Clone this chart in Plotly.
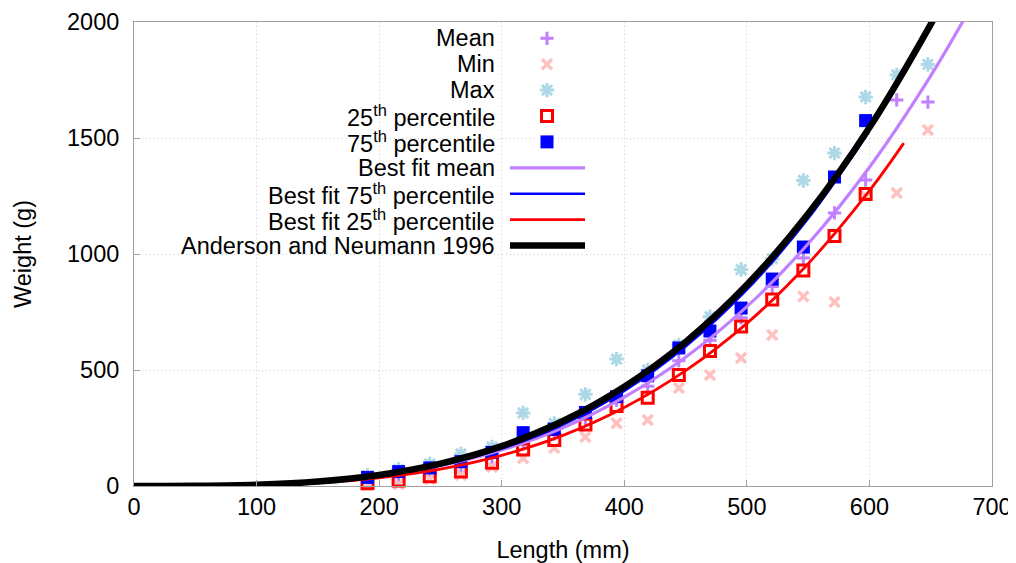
import plotly.graph_objects as go

# ---------------- data ----------------
length_mm = [190.5, 215.9, 241.3, 266.7, 292.1, 317.5, 342.9, 368.3, 393.7, 419.1,
             444.5, 469.9, 495.3, 520.7, 546.1, 571.5, 596.9, 622.3, 647.7]
mean_w = [25, 42, 60, 82, 125, 185, 225, 290, 370, 430,
          540, 628, 725, 860, 983, 1177, 1319, 1664, 1655]
min_w = [5, 8, 30, 47, 82, 120, 164, 211, 270, 284,
         422, 478, 552, 651, 817, 793, 1250, 1263, 1534]
max_w = [45, 72, 95, 138, 168, 315, 270, 395, 547, 500,
         608, 730, 933, 980, 1317, 1435, 1677, 1772, 1817]
p25_w = [12, 24, 42, 62, 100, 157, 198, 265, 345, 380,
         478, 582, 687, 804, 929, 1078, 1259, None, None]
p75_w = [37, 62, 78, 105, 145, 230, 245, 317, 385, 475,
         595, 668, 767, 892, 1030, 1332, 1575, None, None]

# fitted curves
fit_mean_L = [0, 50, 100, 150, 200, 250, 300, 350, 400, 450, 500, 550, 600, 650, 680]
fit_mean_W = [0, 0.55, 4.9, 17.4, 43.1, 87.1, 155, 251, 383, 555, 773, 1044, 1374, 1768, 2038]
fit_p75_L = [0, 50, 100, 150, 200, 250, 300, 350, 400, 450, 500, 550, 600]
fit_p75_W = [0, 0.48, 4.5, 16.9, 43.1, 88.9, 161, 265, 410, 601, 846, 1153, 1530]
fit_p25_L = [0, 50, 100, 150, 200, 250, 300, 350, 400, 450, 500, 550, 600, 628]
fit_p25_W = [0, 0.38, 3.6, 13.7, 35.1, 72.7, 132, 218, 338, 497, 701, 958, 1273, 1478]
an_L = [0, 50, 100, 150, 200, 250, 300, 350, 400, 450, 500, 550, 600, 650, 660]
an_W = [0, 0.59, 5.3, 19.1, 47.6, 96.5, 172, 280, 428, 621, 867, 1173, 1545, 1990, 2089]

x_ticks = [0, 100, 200, 300, 400, 500, 600, 700]
y_ticks = [0, 500, 1000, 1500, 2000]

legend_labels = ["Mean", "Min", "Max", "25<sup>th</sup> percentile", "75<sup>th</sup> percentile",
                 "Best fit mean", "Best fit 75<sup>th</sup> percentile",
                 "Best fit 25<sup>th</sup> percentile", "Anderson and Neumann 1996"]

# ---------------- styles ----------------
PURPLE = "#c080ff"
PINK = "#ffc0c0"
LBLUE = "#add8e6"
RED = "#ff0000"
BLUE = "#0000ff"
BLACK = "#000000"
FONT = "Liberation Sans, Arial, sans-serif"
FS = 23.5

# page body adds an 8px offset; compensate so the plot area lands at
# x 134..992, y 22..486 in the 1016x563 window
OFF = 8
W, H = 1016 - OFF, 563 - OFF
L_M, R_M, T_M, B_M = 134 - OFF, 24, 22 - OFF, 77
PW = W - L_M - R_M
PH = H - T_M - B_M

fig = go.Figure()

marker_styles = [
    ("Mean", mean_w, dict(symbol="cross-thin", size=9.5, color=PURPLE, line=dict(color=PURPLE, width=3))),
    ("Min", min_w, dict(symbol="x-thin", size=10, color=PINK, line=dict(color=PINK, width=3.5))),
    ("Max", max_w, dict(symbol="asterisk", size=12, color=LBLUE, line=dict(color=LBLUE, width=3))),
    ("25th percentile", p25_w, dict(symbol="square-open", size=11, color=RED, line=dict(color=RED, width=3))),
    ("75th percentile", p75_w, dict(symbol="square", size=13, color=BLUE, line=dict(width=0))),
]
for name, ys, mk in marker_styles:
    fig.add_trace(go.Scatter(x=length_mm, y=ys, mode="markers", name=name,
                             marker=mk, cliponaxis=False, showlegend=False))

line_styles = [
    ("Best fit mean", fit_mean_L, fit_mean_W, PURPLE, 3.2),
    ("Best fit 75th percentile", fit_p75_L, fit_p75_W, BLUE, 2.5),
    ("Best fit 25th percentile", fit_p25_L, fit_p25_W, RED, 2.8),
    ("Anderson and Neumann 1996", an_L, an_W, BLACK, 6.5),
]
for name, xs, ys, col, wd in line_styles:
    fig.add_trace(go.Scatter(x=xs, y=ys, mode="lines", name=name,
                             line=dict(color=col, width=wd, shape="spline"),
                             showlegend=False))

# ---------------- custom gnuplot-style legend ----------------
row_px = [38.3, 64.2, 90.1, 116.0, 141.9, 167.8, 193.7, 219.6, 245.5]
def py2paper(py):
    return (H - B_M - (py - OFF)) / PH
def px2paper(px):
    return (px - OFF - L_M) / PW

text_x = px2paper(497)
for lab, py in zip(legend_labels, row_px):
    fig.add_annotation(x=text_x, y=py2paper(py), xref="paper", yref="paper",
                       text=lab, showarrow=False, xanchor="right", yanchor="middle",
                       font=dict(family=FONT, size=FS, color="black"))

mk_x = px2paper(547)
for (name, ys, mk), py in zip(marker_styles, row_px[:5]):
    fig.add_trace(go.Scatter(x=[mk_x], y=[py2paper(py)], mode="markers", marker=mk,
                             xaxis="x2", yaxis="y2", showlegend=False, hoverinfo="skip"))
for (name, xs, ys, col, wd), py in zip(line_styles, row_px[5:]):
    fig.add_trace(go.Scatter(x=[px2paper(510), px2paper(585)], y=[py2paper(py)] * 2,
                             mode="lines", line=dict(color=col, width=wd),
                             xaxis="x2", yaxis="y2", showlegend=False, hoverinfo="skip"))

axis_common = dict(
    showline=True, mirror=True, linecolor="#a0a0a0", linewidth=1,
    ticks="inside", ticklen=6, tickcolor="#a0a0a0",
    showgrid=True, gridcolor="#cfcfcf", griddash="1px,3px", gridwidth=1,
    zeroline=False, tickfont=dict(family=FONT, size=FS, color="black"),
    automargin=False,
)
fig.update_layout(
    width=W, height=H,
    margin=dict(l=L_M, r=R_M, t=T_M, b=B_M),
    paper_bgcolor="white", plot_bgcolor="white",
    font=dict(family=FONT, size=FS, color="black"),
    xaxis=dict(range=[0, 700], tickvals=x_ticks, ticktext=[str(v) for v in x_ticks],
               title=dict(text="Length (mm)", font=dict(family=FONT, size=FS), standoff=22),
               ticklabelstandoff=0,
               **axis_common),
    yaxis=dict(range=[0, 2000], tickvals=y_ticks, ticktext=[str(v) for v in y_ticks],
               title=dict(text="Weight (g)", font=dict(family=FONT, size=FS), standoff=28),
               ticklabelstandoff=9,
               **axis_common),
    xaxis2=dict(range=[0, 1], overlaying="x", visible=False, fixedrange=True),
    yaxis2=dict(range=[0, 1], overlaying="y", visible=False, fixedrange=True),
    showlegend=False,
)

fig.write_html("out.html")
